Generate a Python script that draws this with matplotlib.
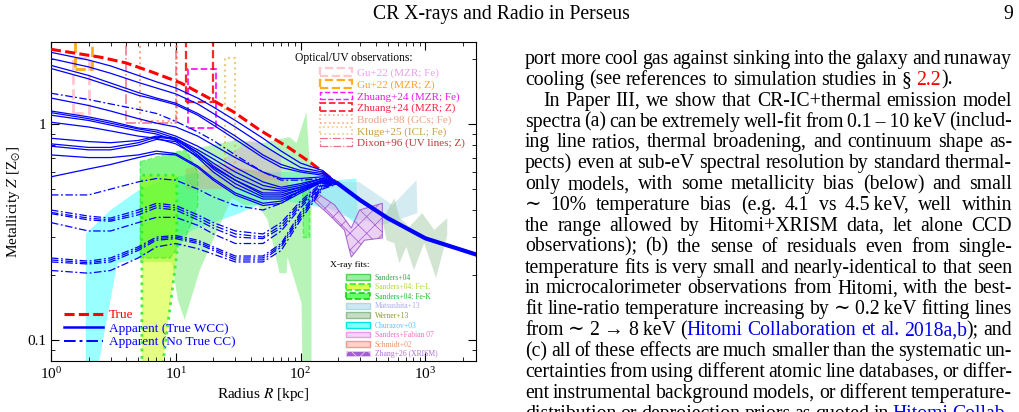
import matplotlib
matplotlib.use('Agg')
import matplotlib.pyplot as plt
import numpy as np
from matplotlib.patches import Polygon, Rectangle, Patch
from matplotlib.lines import Line2D

plt.rcParams['font.family'] = ['Liberation Serif', 'DejaVu Serif']
plt.rcParams['mathtext.fontset'] = 'stix'
plt.rcParams['hatch.linewidth'] = 0.6

# ---------------- data ----------------
# true (input) metallicity profile
R_true = [1, 2.5, 4, 6.5, 11, 18, 29, 47, 80, 122, 200, 300, 500, 1000, 2500]
Z_true = [2.22, 2.04, 1.92, 1.74, 1.55, 1.33, 1.14, 0.94, 0.78, 0.66, 0.53, 0.445, 0.367, 0.296, 0.25]

# apparent profiles (sampled radii + common outer part)
R_grid = [1, 2, 3, 5, 7, 10, 15, 20, 30, 50, 70, 100, 150]
R_tail = [200, 300, 500, 1000, 2500]
Z_tail = [0.53, 0.445, 0.367, 0.296, 0.25]

Z_wcc = [
    [2.15, 1.98, 1.86, 1.68, 1.57, 1.47, 1.32, 1.20, 1.04, 0.86, 0.75, 0.66, 0.61],
    [2.01, 1.84, 1.72, 1.56, 1.47, 1.38, 1.24, 1.12, 0.97, 0.80, 0.71, 0.63, 0.60],
    [1.87, 1.68, 1.55, 1.40, 1.32, 1.25, 1.12, 1.02, 0.88, 0.72, 0.65, 0.61, 0.59],
    [1.81, 1.62, 1.50, 1.36, 1.30, 1.23, 1.10, 0.99, 0.85, 0.70, 0.63, 0.60, 0.58],
    [1.32, 1.22, 1.15, 1.06, 1.01, 0.97, 0.88, 0.80, 0.70, 0.60, 0.56, 0.56, 0.57],
    [1.15, 1.08, 1.03, 0.96, 0.94, 0.88, 0.79, 0.72, 0.63, 0.54, 0.51, 0.53, 0.56],
    [1.13, 1.06, 1.01, 0.95, 0.92, 0.86, 0.76, 0.69, 0.60, 0.52, 0.50, 0.52, 0.56],
    [1.10, 1.04, 0.99, 0.93, 0.90, 0.84, 0.74, 0.66, 0.57, 0.50, 0.49, 0.51, 0.55],
    [1.02, 0.97, 0.93, 0.88, 0.86, 0.81, 0.71, 0.63, 0.55, 0.48, 0.48, 0.51, 0.55],
    [0.86, 0.83, 0.82, 0.84, 0.88, 0.86, 0.74, 0.64, 0.55, 0.47, 0.47, 0.50, 0.55],
    [0.81, 0.78, 0.78, 0.82, 0.87, 0.85, 0.72, 0.62, 0.53, 0.46, 0.46, 0.50, 0.54],
    [0.79, 0.76, 0.76, 0.80, 0.85, 0.83, 0.70, 0.60, 0.51, 0.45, 0.45, 0.49, 0.54],
    [0.72, 0.70, 0.70, 0.72, 0.75, 0.73, 0.64, 0.56, 0.48, 0.43, 0.44, 0.49, 0.54],
    [0.57, 0.62, 0.65, 0.70, 0.73, 0.72, 0.63, 0.55, 0.47, 0.42, 0.43, 0.48, 0.54],
]
Z_nocc = [
    [1.39, 1.30, 1.24, 1.17, 1.12, 1.03, 0.92, 0.84, 0.72, 0.60, 0.55, 0.55, 0.56],
    [0.47, 0.47, 0.50, 0.54, 0.56, 0.55, 0.50, 0.46, 0.42, 0.40, 0.43, 0.49, 0.55],
    [0.40, 0.375, 0.367, 0.40, 0.43, 0.42, 0.38, 0.35, 0.32, 0.31, 0.35, 0.44, 0.54],
    [0.39, 0.367, 0.36, 0.39, 0.42, 0.41, 0.37, 0.34, 0.31, 0.30, 0.34, 0.43, 0.53],
    [0.385, 0.36, 0.355, 0.38, 0.41, 0.40, 0.36, 0.33, 0.30, 0.295, 0.33, 0.42, 0.53],
    [0.35, 0.32, 0.32, 0.35, 0.37, 0.37, 0.34, 0.31, 0.28, 0.28, 0.32, 0.41, 0.52],
    [0.24, 0.232, 0.24, 0.27, 0.30, 0.305, 0.29, 0.27, 0.245, 0.245, 0.28, 0.39, 0.52],
    [0.235, 0.228, 0.235, 0.265, 0.295, 0.30, 0.285, 0.265, 0.24, 0.24, 0.275, 0.38, 0.51],
    [0.23, 0.225, 0.23, 0.26, 0.29, 0.295, 0.28, 0.26, 0.235, 0.235, 0.27, 0.37, 0.51],
    [0.21, 0.204, 0.21, 0.24, 0.27, 0.28, 0.265, 0.25, 0.23, 0.23, 0.26, 0.36, 0.50],
]

# optical / UV boxes
opt_labels = ['Gu+22 (MZR; Fe)', 'Gu+22 (MZR; Z)', 'Zhuang+24 (MZR; Fe)', 'Zhuang+24 (MZR; Z)',
              'Brodie+98 (GCs; Fe)', 'Kluge+25 (ICL; Fe)', 'Dixon+96 (UV lines; Z)']
opt_R_lo = [1.5, 1.55, 12.5, 12.0, 5.15, 24.6, 3.98]
opt_R_hi = [2.0, 2.13, 20.9, 19.8, 10.3, 29.6, 10.0]
opt_Z_lo = [1.12, 1.80, 0.96, 1.27, 1.03, 0.61, 1.01]
opt_Z_hi = [2.02, 3.0, 1.80, 3.0, 3.0, 2.02, 3.0]

# X-ray fit regions
sanders_R = [5.15, 12.5, 30.8, 49.7, 81.7, 92.9, 111.6, 118, 122.5, 122.5, 103.8, 101.9,
             78.7, 77.3, 67.9, 54.5, 45.3, 35.6, 28.1, 15.6, 11.8, 10.4, 9.3, 5.15]
sanders_Z = [0.667, 0.758, 0.843, 0.817, 0.871, 0.817, 1.137, 0.681, 0.681, 0.07, 0.07, 0.148,
             0.242, 0.204, 0.204, 0.36, 0.422, 0.422, 0.455, 0.211, 0.124, 0.153, 0.23, 0.23]
fel_R = [5.35, 5.35, 10.2, 10.2, 7.7]
fel_Z = [0.07, 0.58, 0.58, 0.25, 0.07]
fek_R = [5.2, 8, 12, 15, 15, 12, 9, 5.2]
fek_Z = [0.67, 0.72, 0.76, 0.60, 0.42, 0.30, 0.24, 0.24]
fek2_R = [102, 118, 118, 104]
fek2_Z = [0.55, 0.55, 0.30, 0.30]
matsu_R = [98.3, 205, 296, 547, 851, 866, 453, 205, 98.3]
matsu_Z = [0.681, 0.539, 0.539, 0.422, 0.551, 0.387, 0.341, 0.379, 0.495]
werner_R = [453, 565, 620, 743, 945, 1180, 1500, 1500, 1220, 980, 810, 705, 620, 565, 490]
werner_Z = [0.36, 0.454, 0.371, 0.334, 0.387, 0.323, 0.367, 0.306, 0.194, 0.281, 0.211, 0.27, 0.227, 0.281, 0.29]
chur_R = [1.9, 3.0, 5.2, 8, 15, 30, 60, 120, 200, 280, 290, 200, 120, 60, 30, 15, 7, 5.6, 3.4, 2.33, 1.9]
chur_Z = [0.31, 0.40, 0.50, 0.55, 0.60, 0.62, 0.60, 0.60, 0.55, 0.56, 0.34, 0.40, 0.42, 0.45, 0.38, 0.33,
          0.27, 0.242, 0.227, 0.07, 0.07]
sf07_R = [25, 40, 50, 70, 70, 50, 40, 25]
sf07_Z = [0.70, 0.85, 0.80, 0.72, 0.55, 0.55, 0.60, 0.60]
schmidt_R = [12, 20, 35, 55, 80, 80, 55, 35, 20, 12]
schmidt_Z = [0.62, 0.66, 0.62, 0.60, 0.55, 0.45, 0.47, 0.50, 0.50, 0.50]
zhang_R = [125, 188, 255, 297, 453, 453, 325, 255, 225, 170, 125]
zhang_Z = [0.495, 0.422, 0.33, 0.40, 0.43, 0.297, 0.29, 0.242, 0.323, 0.38, 0.445]

xray_labels = ['Sanders+04', 'Sanders+04: Fe-L', 'Sanders+04: Fe-K', 'Matsushita+13', 'Werner+13',
               'Churazov+03', 'Sanders+Fabian 07', 'Schmidt+02', 'Zhang+26 (XRISM)']

# page text
header = 'CR X-rays and Radio in Perseus'
page_no = '9'
body_lines = [
    "port more cool gas against sinking into the galaxy and runaway",
    "cooling (see references to simulation studies in \u00a7 {2.2}).",
    "In Paper III, we show that CR-IC+thermal emission model",
    "spectra (a) can be extremely well-fit from 0.1\u2009\u2013\u200910\u2009keV (includ-",
    "ing line ratios, thermal broadening, and continuum shape as-",
    "pects) even at sub-eV spectral resolution by standard thermal-",
    "only models, with some metallicity bias (below) and small",
    "\u223c 10% temperature bias (e.g. 4.1 vs 4.5\u2009keV, well within",
    "the range allowed by Hitomi+XRISM data, let alone CCD",
    "observations); (b) the sense of residuals even from single-",
    "temperature fits is very small and nearly-identical to that seen",
    "in microcalorimeter observations from Hitomi, with the best-",
    "fit line-ratio temperature increasing by \u223c 0.2\u2009keV fitting lines",
    "from \u223c 2 \u2192 8\u2009keV (<Hitomi Collaboration et al. 2018a,b>); and",
    "(c) all of these effects are much smaller than the systematic un-",
    "certainties from using different atomic line databases, or differ-",
    "ent instrumental background models, or different temperature-",
    "distribution or deprojection priors as quoted in <Hitomi Collab->",
]
no_justify = [1]
indented = [2]

# ---------------- figure ----------------
W, H = 1020, 412
fig = plt.figure(figsize=(W / 100, H / 100), dpi=100)
ax = fig.add_axes([51 / W, 1 - 361 / H, 425 / W, 319 / H])
ax.set_xscale('log')
ax.set_yscale('log')

# X-ray regions
ax.add_patch(Polygon(np.column_stack([chur_R, chur_Z]), fc=(0, 1, 1, 0.4), ec='none', zorder=1))
ax.add_patch(Polygon(np.column_stack([sanders_R, sanders_Z]), fc=(0.45, 0.92, 0.45, 0.5), ec='none', zorder=1))
ax.add_patch(Polygon(np.column_stack([fel_R, fel_Z]), fc=(0.8, 1, 0.0, 0.5), ec='#44ee44', ls=':', lw=2, zorder=1.2))
for rr, zz in [(fek_R, fek_Z), (fek2_R, fek2_Z)]:
    ax.add_patch(Polygon(np.column_stack([rr, zz]), fc=(0, 1, 0, 0.3), ec=(0.1, 0.9, 0.1, 0.5),
                         ls='--', lw=1.0, zorder=1.3))
ax.add_patch(Polygon(np.column_stack([matsu_R, matsu_Z]), fc=(0.68, 0.85, 0.9, 0.5), ec='none', zorder=1))
ax.add_patch(Polygon(np.column_stack([werner_R, werner_Z]), fc=(0.56, 0.74, 0.56, 0.4), ec='none', zorder=1))
ax.add_patch(Polygon(np.column_stack([sf07_R, sf07_Z]), fc=(0.93, 0.51, 0.93, 0.3), ec='none', zorder=1))
ax.add_patch(Polygon(np.column_stack([schmidt_R, schmidt_Z]), fc=(0.98, 0.5, 0.45, 0.3), ec='none', zorder=1))
ax.add_patch(Polygon(np.column_stack([zhang_R, zhang_Z]), fc=(0.87, 0.7, 0.92, 0.6), ec=(0.6, 0.3, 0.8, 0.8),
                     hatch='xx', lw=0.8, zorder=1.4))

# optical / UV boxes
opt_colors = ['pink', 'orange', 'magenta', 'red', 'lightsalmon', 'goldenrod', 'crimson']
opt_styles = ['--', '--', '--', '--', ':', ':', '-.']
opt_lw = [2.0, 2.0, 1.3, 1.6, 1.5, 1.5, 1.1]
opt_alpha = [0.9, 0.9, 0.9, 0.85, 0.9, 0.55, 0.6]
for i in range(len(opt_labels)):
    ax.add_patch(Rectangle((opt_R_lo[i], opt_Z_lo[i]), opt_R_hi[i] - opt_R_lo[i], opt_Z_hi[i] - opt_Z_lo[i],
                           fill=False, ec=opt_colors[i], ls=opt_styles[i], lw=opt_lw[i], alpha=opt_alpha[i], zorder=2))

# profiles
dashdot = (0, (6, 2, 1.5, 2))
ax.plot(R_true, Z_true, color='red', lw=2.2, ls=(0, (3.3, 1.4)), zorder=3)
for z in Z_wcc:
    ax.plot(R_grid + R_tail, z + Z_tail, color='blue', lw=0.9, zorder=4)
for z in Z_nocc:
    ax.plot(R_grid + R_tail, z + Z_tail, color='blue', lw=0.9, ls=dashdot, zorder=4)
ax.plot(R_tail, Z_tail, color='blue', lw=3, zorder=4)

ax.set_xlim(1, 2550)
ax.set_ylim(0.08, 2.4)
ax.set_yticks([0.1, 1])
ax.set_yticklabels(['0.1', '1'])
ax.tick_params(which='both', direction='in', top=True, right=True, labelsize=11)
ax.tick_params(which='major', length=6, width=0.8)
ax.tick_params(which='minor', length=3, width=0.6)
ax.set_xlabel('Radius $R$ [kpc]', fontsize=11, labelpad=3)
ax.set_ylabel(r'Metallicity $Z$ [Z$_{\odot}$]', fontsize=11, labelpad=4)

# legends
line_handles = [Line2D([], [], color='red', lw=2.2, ls=(0, (3.3, 1.4))),
                Line2D([], [], color='blue', lw=1.8),
                Line2D([], [], color='blue', lw=1.4, ls=dashdot)]
leg1 = ax.legend(line_handles, ['True', 'Apparent (True WCC)', 'Apparent (No True CC)'],
                 loc='lower left', bbox_to_anchor=(0.03, 0.04), frameon=False, fontsize=9.5,
                 handlelength=3.0, handletextpad=0.4, labelspacing=0.1, borderpad=0, borderaxespad=0,
                 labelcolor=['red', 'blue', 'blue'])
ax.add_artist(leg1)

opt_handles = [Patch(fc='none', ec=opt_colors[i], ls=opt_styles[i], lw=opt_lw[i] * 0.8, alpha=opt_alpha[i])
               for i in range(len(opt_labels))]
opt_text_colors = ['#e8a0f0', '#ffa030', '#e020e0', '#ff2040', '#f0a080', '#c8a040', '#c03838']
leg2 = ax.legend(opt_handles, opt_labels, loc='upper left', bbox_to_anchor=(0.633, 0.918), frameon=False,
                 fontsize=8, handlelength=2.9, handleheight=0.7, handletextpad=0.45, labelspacing=0.15,
                 borderpad=0, borderaxespad=0, labelcolor=opt_text_colors)
ax.add_artist(leg2)
ax.text(0.574, 0.95, 'Optical/UV observations:', transform=ax.transAxes, fontsize=8.3, va='center')

xray_handles = [
    Patch(fc=(0.45, 0.92, 0.45, 0.7), ec=(0.2, 0.8, 0.2, 0.8)),
    Patch(fc=(0.8, 1, 0.0, 0.7), ec='#33ee33', ls='--', lw=1.2),
    Patch(fc=(0, 1, 0, 0.6), ec=(0.1, 0.8, 0.1), ls='--', lw=1.2),
    Patch(fc=(0.68, 0.85, 0.9, 0.6), ec=(0.68, 0.85, 0.9)),
    Patch(fc=(0.56, 0.74, 0.56, 0.5), ec=(0.56, 0.74, 0.56)),
    Patch(fc=(0, 1, 1, 0.5), ec=(0, 0.9, 0.9)),
    Patch(fc=(0.93, 0.51, 0.93, 0.35), ec=(0.93, 0.6, 0.93)),
    Patch(fc=(0.98, 0.5, 0.45, 0.35), ec=(0.98, 0.6, 0.55)),
    Patch(fc=(0.6, 0.3, 0.8, 0.9), ec=(0.9, 0.8, 0.95), hatch='xx', lw=0.6),
]
xray_text_colors = ['#3aa050', '#b0d830', '#20c020', '#a8a8f0', '#8a9a30', '#60c0ff', '#f070c0',
                    '#f09070', '#b070d0']
leg3 = ax.legend(xray_handles, xray_labels, loc='upper left', bbox_to_anchor=(0.694, 0.273), frameon=False,
                 fontsize=5.5, handlelength=3.1, handleheight=0.8, handletextpad=0.65, labelspacing=0.2,
                 borderpad=0, borderaxespad=0, labelcolor=xray_text_colors)
ax.text(0.656, 0.301, 'X-ray fits:', transform=ax.transAxes, fontsize=6.8, va='center')

# ---------------- page text ----------------
renderer = fig.canvas.get_renderer()


def measure(s, size):
    t = fig.text(0, 0, s, fontsize=size)
    w = t.get_window_extent(renderer).width
    t.remove()
    return w


def parse_words(s):
    words, pieces, cur, col = [], [], '', 'black'
    cmap = {'{': '#ff0000', '<': '#0000ee', '}': 'black', '>': 'black'}
    for ch in s:
        if ch in cmap:
            if cur:
                pieces.append((cur, col))
                cur = ''
            col = cmap[ch]
        elif ch == ' ':
            if cur:
                pieces.append((cur, col))
                cur = ''
            if pieces:
                words.append(pieces)
                pieces = []
        else:
            cur += ch
    if cur:
        pieces.append((cur, col))
    if pieces:
        words.append(pieces)
    return words


x_left, x_right = 525, 1012
parsed = [parse_words(l) for l in body_lines]

# pick the font size so that the justified lines need about a normal word space
TXT = 12.6
for _ in range(2):
    sw = measure('a a', TXT) - measure('aa', TXT)
    ratios = []
    for i, words in enumerate(parsed):
        if i in no_justify:
            continue
        x0 = x_left + (18 if i in indented else 0)
        nat = sum(measure(p, TXT) for w in words for p, c in w) + sw * (len(words) - 1)
        ratios.append((x_right - x0) / nat)
    TXT *= float(np.median(ratios))

fig.text(501 / W, 1 - 19 / H, header, ha='center', va='baseline', fontsize=TXT)
fig.text(1013 / W, 1 - 19 / H, page_no, ha='right', va='baseline', fontsize=TXT)

space_w = measure('a a', TXT) - measure('aa', TXT)
for i, words in enumerate(parsed):
    yb = 1 - (64 + 20.86 * i) / H
    x0 = x_left + (18 if i in indented else 0)
    widths = [[measure(p, TXT) for p, c in w] for w in words]
    total = sum(sum(ws) for ws in widths)
    gap = space_w if i in no_justify else (x_right - x0 - total) / (len(words) - 1)
    x = x0
    for w, ws in zip(words, widths):
        for (p, c), pw in zip(w, ws):
            fig.text(x / W, yb, p, color=c, fontsize=TXT, va='baseline')
            x += pw
        x += gap

fig.savefig('out.png', dpi=100)
